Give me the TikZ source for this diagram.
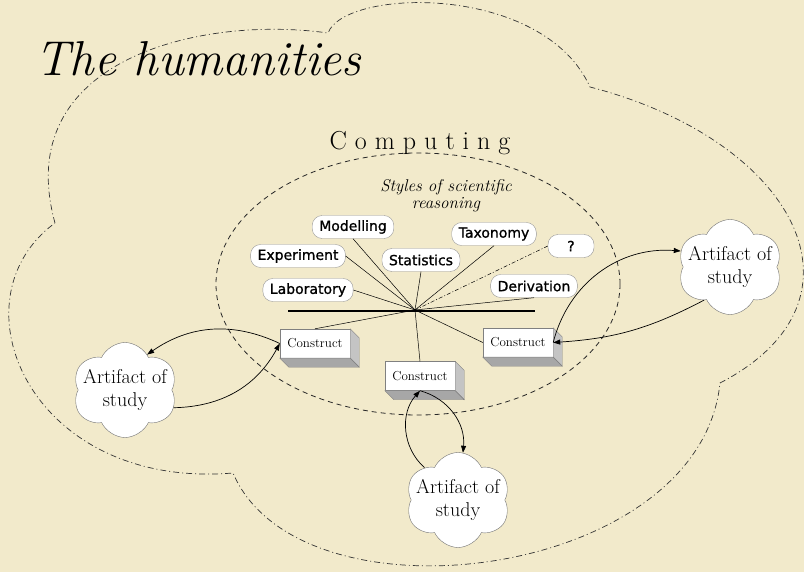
\documentclass[tikz,border=0pt]{standalone}
\usepackage{fontspec}
\newfontfamily\pillfont[FakeBold=1]{DejaVu Sans}
\usepackage{xcolor}
\usetikzlibrary{arrows.meta,positioning,shapes.symbols,calc}
\definecolor{paper}{RGB}{242,234,203}
\definecolor{pillgray}{RGB}{150,150,150}
\definecolor{sidegray}{RGB}{196,196,196}
\tikzset{
  pill/.style={draw=pillgray,fill=white,rounded corners=10pt,font=\pillfont\fontsize{14}{16}\selectfont,minimum height=23pt,inner xsep=7pt,inner ysep=2pt},
  construct/.style={draw=gray,fill=white,font=\fontsize{13}{15}\selectfont,minimum width=70pt,minimum height=29pt,inner sep=0pt},
  artifact/.style={cloud,cloud puffs=6,cloud puff arc=130,aspect=1.1,draw=gray!90!black,fill=white,minimum width=105pt,minimum height=95pt,inner sep=0pt},
  arttext/.style={font=\fontsize{20}{23}\selectfont,align=center},
  arr/.style={-{Triangle[length=7pt,width=5pt]},line width=0.7pt},
  spoke/.style={line width=0.5pt},
  outer/.style={line width=0.7pt,black!80,dash pattern=on 6pt off 3pt on 1pt off 3pt},
  inner/.style={line width=0.8pt,black!85,dash pattern=on 5pt off 4pt},
}
\begin{document}
\begin{tikzpicture}[x=1pt,y=-1pt]
\fill[paper] (0,0) rectangle (804,572);
\useasboundingbox (0,0) rectangle (804,572);
% the humanities
\draw[outer] (55,223) .. controls (10,60) and (200,15) .. (328,33)
  .. controls (345,-12) and (543,-17) .. (590,87)
  .. controls (795,140) and (880,300) .. (720,383)
  .. controls (700,580) and (300,630) .. (233,473)
  .. controls (30,490) and (-50,300) .. cycle;
\node[font=\itshape\fontsize{49}{55}\selectfont,anchor=base west] (hum) at (32,76) {The humanities};
% computing
\draw[inner] (418,284) ellipse (202 and 131);
\node[font=\fontsize{26}{30}\selectfont] (comp) at (420,143) {C\kern8pt o\kern8pt m\kern8pt p\kern8pt u\kern8pt t\kern8pt i\kern8pt n\kern8pt g};
\node[font=\itshape\fontsize{17}{17}\selectfont,align=center,inner sep=0pt] (sty) at (446,196) {Styles of scientific\\reasoning};
\node[pill] (mod) at (353,227) {Modelling};
\node[pill] (exp) at (298,256) {Experiment};
\node[pill] (stat) at (421,260) {Statistics};
\node[pill] (tax) at (494,234) {Taxonomy};
\node[pill,minimum width=46pt] (q) at (571,246) {?};
\node[pill] (lab) at (308,290) {Laboratory};
\node[pill] (der) at (534,286) {Derivation};
\coordinate (hub) at (415,310);
\coordinate (barL) at (288,311);
\coordinate (barR) at (535,311);
\node[construct] (c1) at (315,343.5) {Construct};
\node[construct] (c2) at (420,376) {Construct};
\node[construct] (c3) at (518,342.5) {Construct};
\foreach \c in {c1,c2,c3}{
  \filldraw[fill=sidegray,draw=gray] (\c.north east) -- ++(9,9) -- ($(\c.south east)+(9,9)$) -- (\c.south east) -- cycle;
  \filldraw[fill=sidegray!85!black,draw=gray] (\c.south west) -- (\c.south east) -- ($(\c.south east)+(9,9)$) -- ($(\c.south west)+(9,9)$) -- cycle;
}
\draw[spoke] (lab.east) -- (hub);
\draw[spoke] (exp.east) -- (hub);
\draw[spoke] (mod.south) -- (hub);
\draw[spoke] (stat.south) -- (hub);
\draw[spoke] (tax.south) -- (hub);
\draw[spoke,dash pattern=on 4pt off 2pt on 1pt off 2pt] (q.west) -- (hub);
\draw[spoke] (der.south) -- (hub);
\draw[spoke] (hub) -- (c1.north);
\draw[spoke] (hub) -- (c2.north);
\draw[spoke] (hub) -- (c3.west);
\draw[line width=2pt] (barL) -- (barR);
% artifacts
\node[artifact,label={[arttext]center:{Artifact of\\study}}] (art1) at (125,390) {};
\node[artifact,label={[arttext]center:{Artifact of\\study}}] (art2) at (730,267) {};
\node[artifact,label={[arttext]center:{Artifact of\\study}}] (art3) at (458,500) {};
\draw[arr] (c1.west) to[bend right=30] (art1.58);
\draw[arr] (art1.-20) to[bend right=30] (c1.west);
\draw[arr] (c3.east) to[bend left=40] (art2.162);
\draw[arr] (art2.232) to[bend left=12] (c3.east);
\draw[arr] (art3.136) to[bend left=45] (c2.south);
\draw[arr] (c2.south) to[bend left=40] (art3.84);
\end{tikzpicture}
\end{document}
